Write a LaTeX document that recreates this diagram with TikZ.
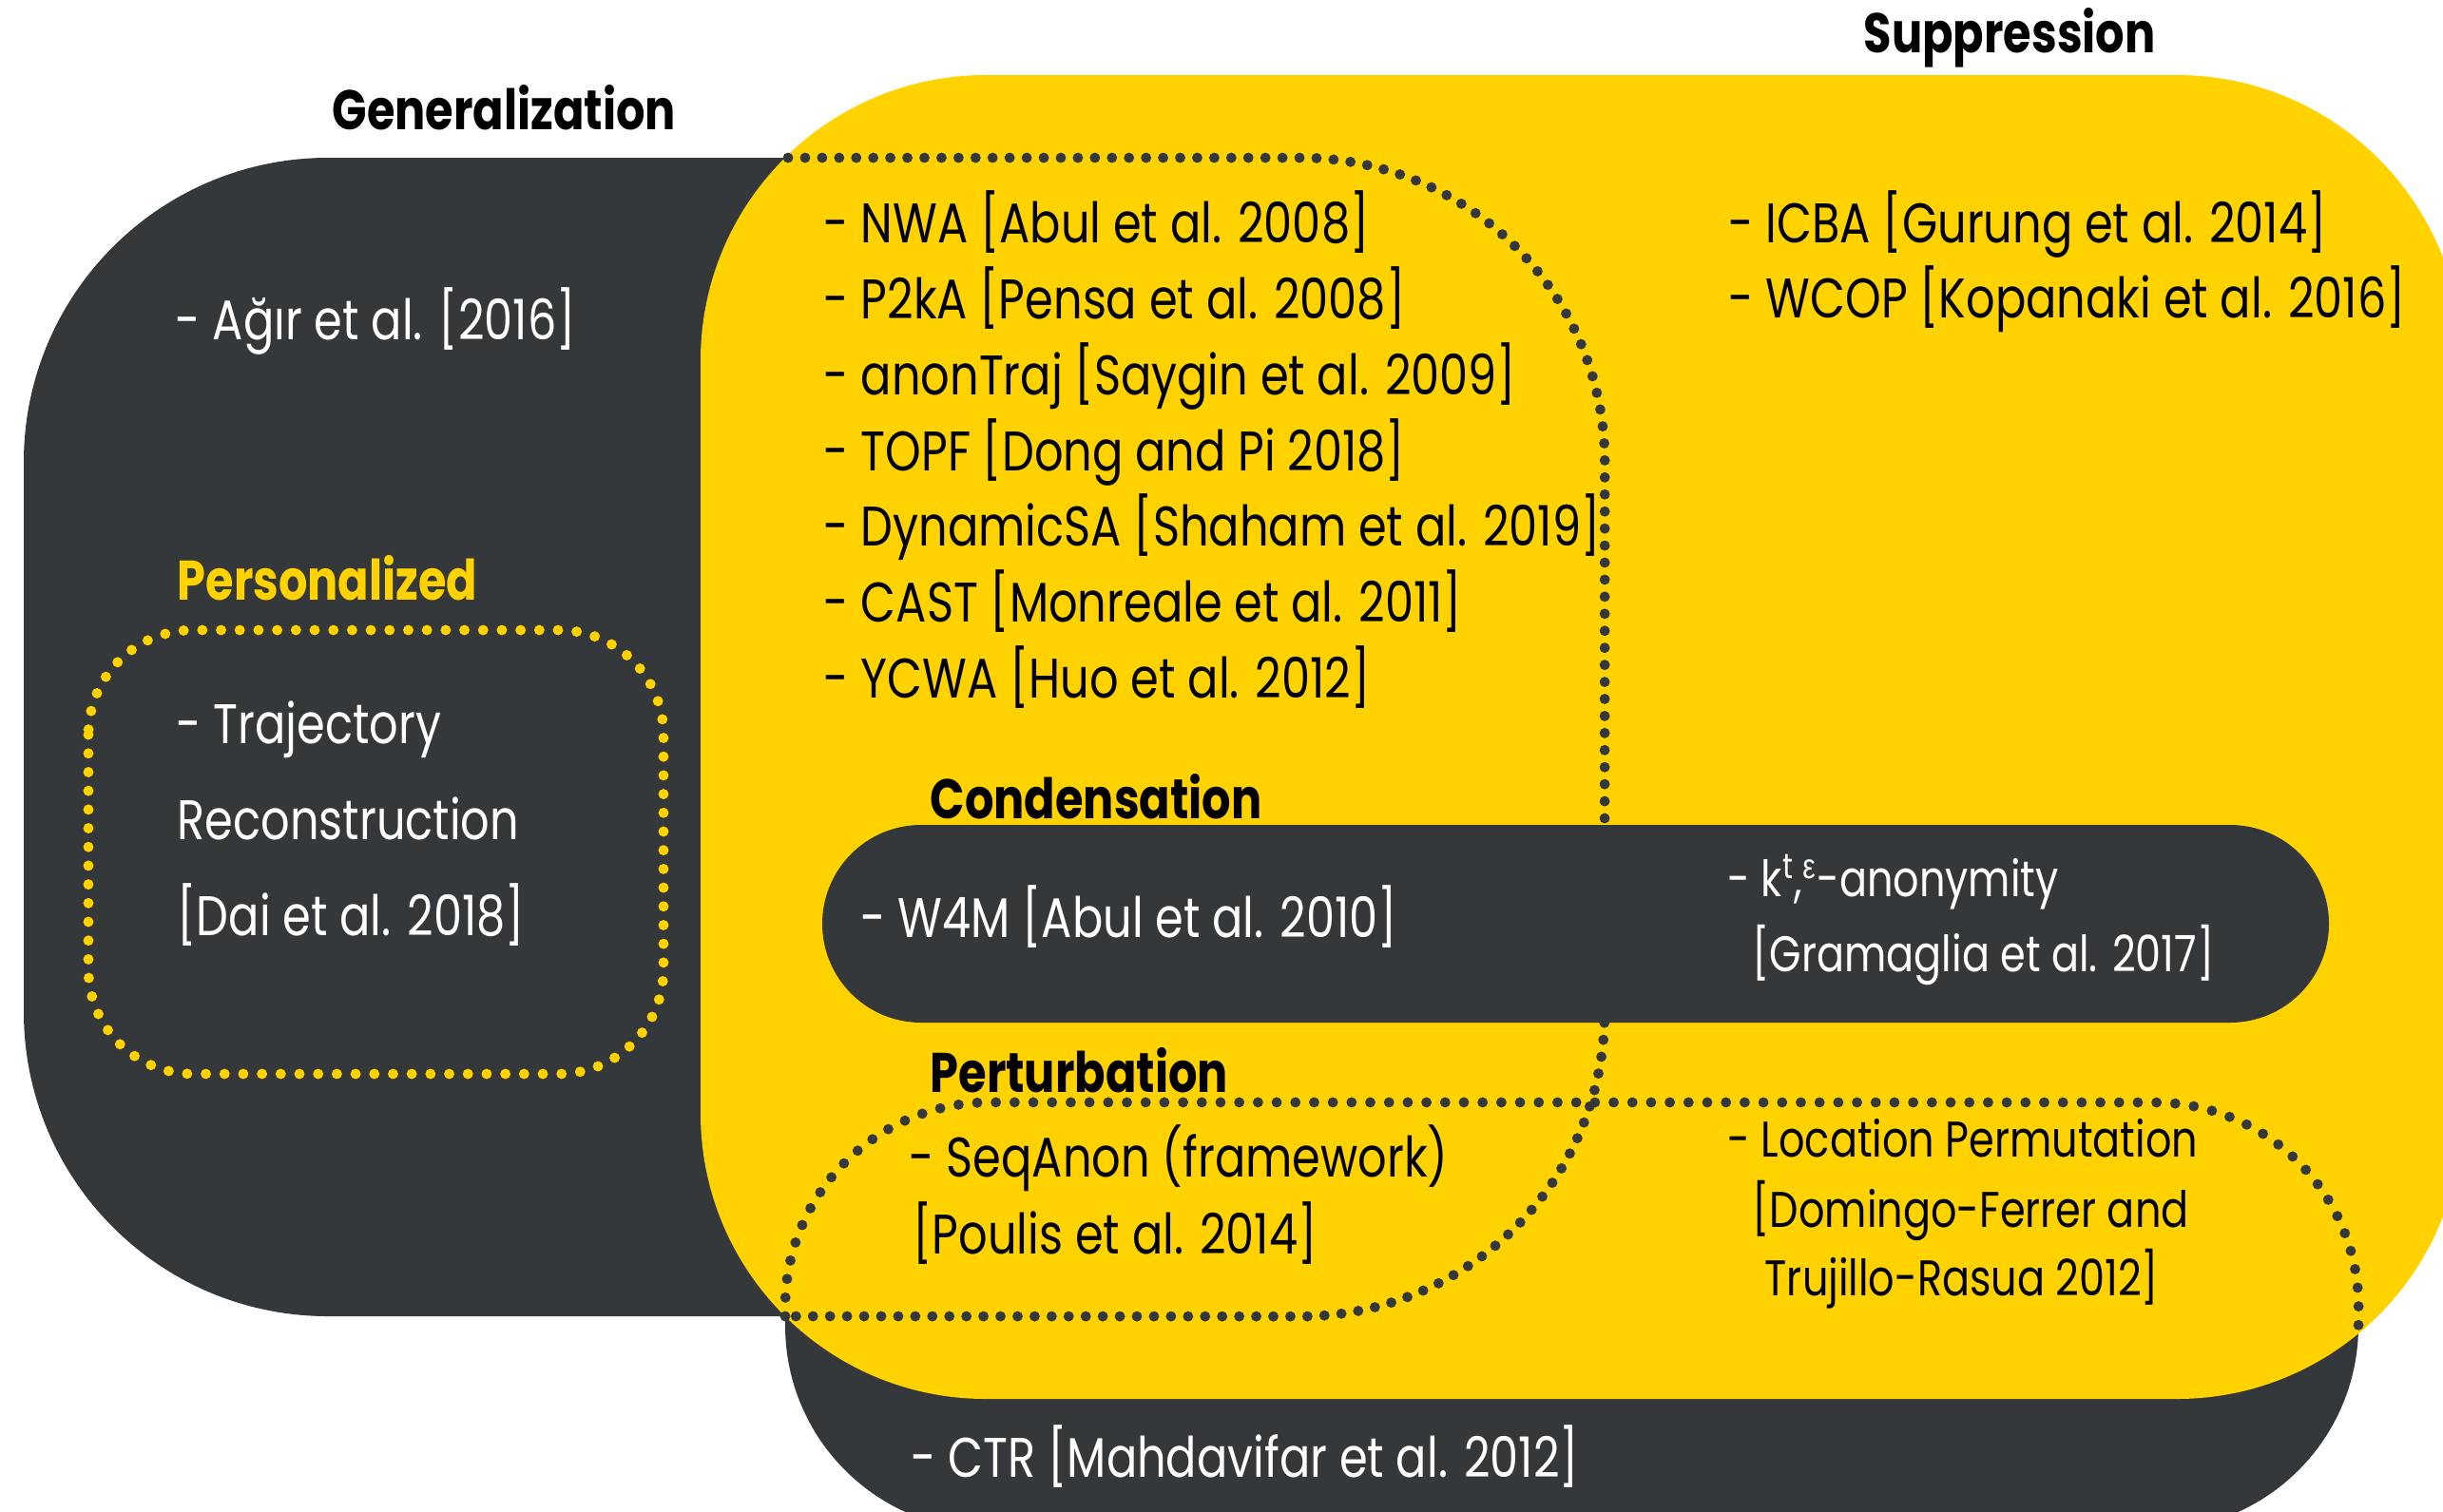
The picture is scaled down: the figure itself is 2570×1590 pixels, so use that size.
\documentclass[tikz,border=0pt]{standalone}
\usepackage{fontspec}
\setmainfont{Poppins}[FakeStretch=0.815]
\newfontfamily\grkfont{Liberation Sans}[FakeStretch=0.815]
\definecolor{ink}{HTML}{35383A}
\definecolor{sun}{HTML}{FFD200}
\tikzset{
  px/.style={x=0.01cm, y=-0.01cm},
  txt/.style={font=\fontsize{16.7pt}{22pt}\selectfont, inner sep=0pt, anchor=base west},
  small/.style={font=\fontsize{15pt}{20pt}\selectfont, inner sep=0pt, anchor=base west},
  head/.style={font=\fontsize{16.7pt}{22pt}\selectfont\bfseries, inner sep=0pt, anchor=base west},
  dotline/.style={line width=3.1pt, line cap=round, dash pattern=on 0pt off 5.6pt},
}
\begin{document}
\begin{tikzpicture}[px]
\useasboundingbox (0,0) rectangle (2570,1590);
\fill[white] (0,0) rectangle (2570,1590);

% the four sets
\begin{scope}
  \clip (0,0) rectangle (2570,1590);
  \fill[ink, rounded corners=2.15cm] (826,1160) rectangle (2481,1610);   % perturbation
  \fill[ink, rounded corners=3.2cm] (25,166) rectangle (1688,1385);      % generalization
  \fill[sun, rounded corners=3cm] (737,79) rectangle (2590,1472);        % suppression
  \fill[ink, rounded corners=1.04cm] (865,868) rectangle (2450,1076);    % condensation
\end{scope}

% dotted borders where sets overlap
\draw[dotline, ink, dash pattern=on 0pt off 5.1pt]
  (829,166) -- (1368,166) arc[start angle=90, end angle=0, radius=3.2cm]
  -- (1688,1065) arc[start angle=0, end angle=-90, radius=3.2cm] -- (829,1385);
\draw[dotline, ink]
  (826,1385) -- (826,1375) arc[start angle=180, end angle=90, radius=2.15cm]
  -- (2266,1160) arc[start angle=90, end angle=0, radius=2.15cm] -- (2481,1410);
\draw[dotline, sun, rounded corners=1.1cm] (93,663) rectangle (698,1130);

% headings
\node[head] (gen)  at (349,136)  {Generalization};
\node[head] (sup)  at (1960,55)  {Suppression};
\node[head] (cond) at (978,861)  {Condensation};
\node[head] (pert) at (978,1149) {Perturbation};
\node[head, sun] (pers) at (186,631) {Personalized};

% generalization only
\node[txt, white] (agir)  at (184,357) {- Ağır et al. [2016]};
\node[txt, white] (traj1) at (185,782) {- Trajectory};
\node[txt, white] (traj2) at (186,883) {Reconstruction};
\node[txt, white] (traj3) at (186,984) {[Dai et al. 2018]};

% generalization and suppression
\node[txt] (nwa)  at (866,255) {- NWA [Abul et al. 2008]};
\node[txt] (p2ka) at (866,335) {- P2kA [Pensa et al. 2008]};
\node[txt] (anon) at (866,415) {- anonTraj [Saygin et al. 2009]};
\node[txt] (topf) at (866,495) {- TOPF [Dong and Pi 2018]};
\node[txt] (dyn)  at (866,574) {- DynamicSA [Shaham et al. 2019]};
\node[txt] (cast) at (866,654) {- CAST [Monreale et al. 2011]};
\node[txt] (ycwa) at (866,734) {- YCWA [Huo et al. 2012]};

% suppression only
\node[txt] (icba) at (1818,255) {- ICBA [Gurung et al. 2014]};
\node[txt] (wcop) at (1818,334) {- WCOP [Kopanaki et al. 2016]};

% condensation
\node[txt, white] (w4m)  at (905,986)   {- W4M [Abul et al. 2010]};
\node[small, white] (kte1) at (1817,943)  {- k\textsuperscript{t},\textsuperscript{\grkfont ε}-anonymity};
\node[small, white] (kte2) at (1843,1022) {[Gramaglia et al. 2017]};

% perturbation
\node[txt] (seq1) at (956,1238)  {- SeqAnon (framework)};
\node[txt] (seq2) at (960,1319)  {[Poulis et al. 2014]};
\node[small] (loc1) at (1817,1217) {- Location Permutation};
\node[small] (loc2) at (1843,1291) {[Domingo-Ferrer and};
\node[small] (loc3) at (1856,1363) {Trujillo-Rasua 2012]};
\node[txt, white] (ctr) at (958,1554) {- CTR [Mahdavifar et al. 2012]};
\end{tikzpicture}
\end{document}
